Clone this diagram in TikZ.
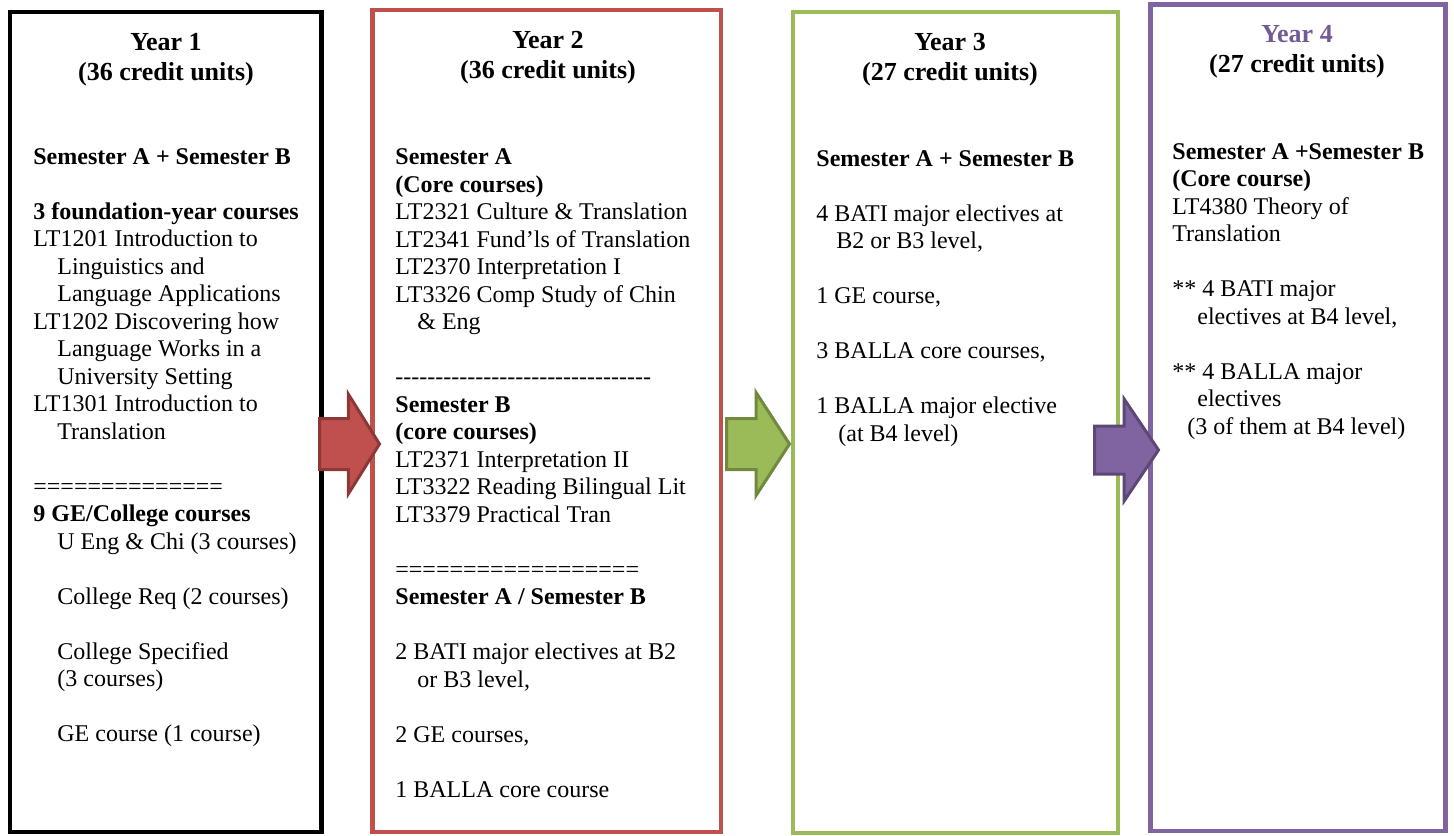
\documentclass[tikz,border=0pt]{standalone}
\usepackage{fontspec}
\setmainfont{Liberation Serif}[Ligatures=TeXOff]
\usetikzlibrary{positioning, fit, shapes.arrows}

\definecolor{yrred}{HTML}{C0504D}
\definecolor{yrredline}{HTML}{8C3836}
\definecolor{yrgreen}{HTML}{9BBB59}
\definecolor{yrgreenline}{HTML}{71893F}
\definecolor{yrpurple}{HTML}{8064A2}
\definecolor{yrpurpleline}{HTML}{5C4776}
\definecolor{yrpurpletext}{HTML}{725A94}

\begin{document}
\begin{tikzpicture}[
            x=0.5pt, y=-0.5pt,
            yearbox/.style={rectangle, draw, line width=2.3pt, inner sep=0pt},
            yeartitle/.style={align=center, anchor=base, inner sep=0pt,
                    font=\fontsize{13}{15}\selectfont\bfseries},
            yearbody/.style={align=left, anchor=base west, inner sep=0pt,
                    font=\fontsize{12}{13.75}\selectfont},
            blockarrow/.style={single arrow, draw, line width=1.5pt, anchor=tail,
                    inner xsep=0pt, inner ysep=#1, minimum height=30pt},
            ]

            \useasboundingbox (0,0) rectangle (1454,835);

            % the four year boxes
            \node[yearbox, draw=black, fit={(10,12) (321.5,832)}] (year1) {};
            \node[yearbox, draw=yrred, fit={(372.5,10) (721,832)}] (year2) {};
            \node[yearbox, draw=yrgreen, fit={(793,12) (1118,833)}] (year3) {};
            \node[yearbox, draw=yrpurple, fit={(1150.5,4.5) (1445.5,831)}] (year4) {};

            % titles and course lists (placed by the baseline of their last line)
            \node[yeartitle] (title1) at (166,80) {Year 1\\(36 credit units)};
            \node[yeartitle] (title2) at (548,78) {Year 2\\(36 credit units)};
            \node[yeartitle] (title3) at (950,80) {Year 3\\(27 credit units)};
            \node[yeartitle] (title4) at (1297,72) {\textcolor{yrpurpletext}{Year 4}\\(27 credit units)};

            \node[yearbody] (body1) at (33,741.5) {%
                \textbf{Semester A + Semester B}\\[13.75pt]
                \textbf{3 foundation-year courses}\\
                LT1201 Introduction to\\
                \hspace*{12pt}Linguistics and\\
                \hspace*{12pt}Language Applications\\
                LT1202 Discovering how\\
                \hspace*{12pt}Language Works in a\\
                \hspace*{12pt}University Setting\\
                LT1301 Introduction to\\
                \hspace*{12pt}Translation\\[13.75pt]
                ==============\\
                \textbf{9 GE/College courses}\\
                \hspace*{12pt}U Eng \& Chi (3 courses)\\[13.75pt]
                \hspace*{12pt}College Req (2 courses)\\[13.75pt]
                \hspace*{12pt}College Specified\\
                \hspace*{12pt}(3 courses)\\[13.75pt]
                \hspace*{12pt}GE course (1 course)};

            \node[yearbody] (body2) at (395,797) {%
                \textbf{Semester A}\\
                \textbf{(Core courses)}\\
                LT2321 Culture \& Translation\\
                LT2341 Fund’ls of Translation\\
                LT2370 Interpretation I\\
                LT3326 Comp Study of Chin\\
                \hspace*{11pt}\& Eng\\[13.75pt]
                --------------------------------\\
                \textbf{Semester B}\\
                \textbf{(core courses)}\\
                LT2371 Interpretation II\\
                LT3322 Reading Bilingual Lit\\
                LT3379 Practical Tran\\[13.75pt]
                ==================\\
                \textbf{Semester A / Semester B}\\[13.75pt]
                2 BATI major electives at B2\\
                \hspace*{11pt}or B3 level,\\[13.75pt]
                2 GE courses,\\[13.75pt]
                1 BALLA core course};

            \node[yearbody] (body3) at (816,441) {%
                \textbf{Semester A + Semester B}\\[13.75pt]
                4 BATI major electives at\\
                \hspace*{10pt}B2 or B3 level,\\[13.75pt]
                1 GE course,\\[13.75pt]
                3 BALLA core courses,\\[13.75pt]
                1 BALLA major elective\\
                \hspace*{11pt}(at B4 level)};

            \node[yearbody] (body4) at (1172,434) {%
                \textbf{Semester A +Semester B}\\
                \textbf{(Core course)}\\
                LT4380 Theory of\\
                Translation\\[13.75pt]
                ** 4 BATI major\\
                \hspace*{12.5pt}electives at B4 level,\\[13.75pt]
                ** 4 BALLA major\\
                \hspace*{12.5pt}electives\\
                \hspace*{7.5pt}(3 of them at B4 level)};

            % block arrows between the years
            \node[blockarrow=12pt, fill=yrred, draw=yrredline,
                single arrow head extend=12.25pt, single arrow tip angle=116]
                (arrow12) at (318,444) {};
            \node[blockarrow=12pt, fill=yrgreen, draw=yrgreenline, minimum height=31.5pt,
                single arrow head extend=13pt, single arrow tip angle=114]
                (arrow23) at (725,444) {};
            \node[blockarrow=11.25pt, fill=yrpurple, draw=yrpurpleline, minimum height=32pt,
                single arrow head extend=13.5pt, single arrow tip angle=112]
                (arrow34) at (1093,450) {};

        \end{tikzpicture}
\end{document}
